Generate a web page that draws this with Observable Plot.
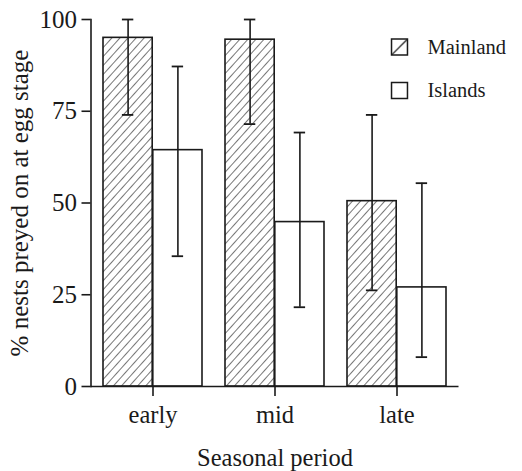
<!DOCTYPE html>
<html><head><meta charset="utf-8">
<script src="https://cdn.jsdelivr.net/npm/d3@7"></script>
<script src="https://cdn.jsdelivr.net/npm/@observablehq/plot@0.6"></script>
<style>body{margin:0;background:#fff}</style>
</head><body><div id="chart"></div>
<script>
const periods = ["early", "mid", "late"];
const series = ["Mainland", "Islands"];
const mainlandMean = [95, 94.5, 50.5];
const mainlandLow = [74, 71.5, 26.2];
const mainlandHigh = [100, 100, 74];
const islandsMean = [64.4, 44.8, 27];
const islandsLow = [35.5, 21.6, 8];
const islandsHigh = [87.2, 69.2, 55.4];
const yTicks = [0, 25, 50, 75, 100];

const mainland = periods.map((p, i) => ({period: p, series: series[0], mean: mainlandMean[i], low: mainlandLow[i], high: mainlandHigh[i]}));
const islands = periods.map((p, i) => ({period: p, series: series[1], mean: islandsMean[i], low: islandsLow[i], high: islandsHigh[i]}));

const W = 522, H = 471;
const mL = 90.5, mR = 63.5, mT = 19, mB = 85;
const pIn = 0.188, pOut = 0.094;
const step = (W - mL - mR) / (periods.length - pIn + 2 * pOut);
const bw = step * (1 - pIn);
const half = bw / 2;
const capW = 12;
const ink = "#1a1a1a";
const serif = "Liberation Serif";

const chart = Plot.plot({
  width: W, height: H,
  marginLeft: mL, marginRight: mR, marginTop: mT, marginBottom: mB,
  style: `font-family: '${serif}', serif; font-size: 24px; background: white; color: ${ink};`,
  x: {domain: periods, paddingInner: pIn, paddingOuter: pOut, axis: null},
  y: {domain: [0, 100], axis: null},
  marks: [
    Plot.barY(mainland, {x: "period", y: "mean", insetRight: half, fill: "url(#hatch)", stroke: ink, strokeWidth: 1.6}),
    Plot.barY(islands, {x: "period", y: "mean", insetLeft: half, fill: "white", stroke: ink, strokeWidth: 1.6}),
    Plot.ruleX(mainland, {x: "period", y1: "low", y2: "high", dx: -half / 2, stroke: ink, strokeWidth: 1.6}),
    Plot.ruleX(islands, {x: "period", y1: "low", y2: "high", dx: half / 2, stroke: ink, strokeWidth: 1.6}),
    Plot.tickY(mainland, {x: "period", y: "high", insetLeft: half / 2 - capW / 2, insetRight: bw - half / 2 - capW / 2, stroke: ink, strokeWidth: 1.8}),
    Plot.tickY(mainland, {x: "period", y: "low", insetLeft: half / 2 - capW / 2, insetRight: bw - half / 2 - capW / 2, stroke: ink, strokeWidth: 1.8}),
    Plot.tickY(islands, {x: "period", y: "high", insetLeft: half * 1.5 - capW / 2, insetRight: half / 2 - capW / 2, stroke: ink, strokeWidth: 1.8}),
    Plot.tickY(islands, {x: "period", y: "low", insetLeft: half * 1.5 - capW / 2, insetRight: half / 2 - capW / 2, stroke: ink, strokeWidth: 1.8}),
    Plot.ruleY([0], {stroke: ink, strokeWidth: 1.6}),
    Plot.frame({anchor: "left", stroke: ink, strokeWidth: 1.6}),
    Plot.axisY(yTicks, {tickSize: 9, tickPadding: 5, fontSize: 25, fontFamily: serif, tickFormat: d => d, label: "% nests preyed on at egg stage", labelAnchor: "center", labelArrow: "none", labelOffset: 81, stroke: ink, strokeWidth: 1.6}),
    Plot.axisX({tickSize: 10, tickPadding: 9, fontSize: 24.5, fontFamily: serif, label: "Seasonal period", labelAnchor: "center", labelArrow: "none", labelOffset: 79, stroke: ink, strokeWidth: 1.6}),
    Plot.dot([series[0]], {frameAnchor: "top-left", dx: 308.5, dy: 27.5, symbol: "square", r: 9, fill: "url(#hatchLegend)", stroke: ink, strokeWidth: 1.5}),
    Plot.dot([series[1]], {frameAnchor: "top-left", dx: 308.5, dy: 71, symbol: "square", r: 9, fill: "white", stroke: ink, strokeWidth: 1.5}),
    Plot.text([series[0]], {text: d => d, frameAnchor: "top-left", dx: 336.5, dy: 27.8, textAnchor: "start", lineAnchor: "middle", fontSize: 20.5, fontFamily: serif, fill: ink}),
    Plot.text([series[1]], {text: d => d, frameAnchor: "top-left", dx: 336.5, dy: 71, textAnchor: "start", lineAnchor: "middle", fontSize: 20.5, fontFamily: serif, fill: ink})
  ]
});

const defs = d3.select(chart).insert("defs", ":first-child");
const pat = defs.append("pattern").attr("id", "hatch").attr("patternUnits", "userSpaceOnUse")
  .attr("width", 6).attr("height", 6).attr("patternTransform", "rotate(42)");
pat.append("rect").attr("width", 6).attr("height", 6).attr("fill", "white");
pat.append("line").attr("x1", 0).attr("y1", 0).attr("x2", 0).attr("y2", 6).attr("stroke", ink).attr("stroke-width", 1.2);
const pat2 = defs.append("pattern").attr("id", "hatchLegend").attr("patternUnits", "objectBoundingBox")
  .attr("width", 1).attr("height", 1);
pat2.append("rect").attr("width", 16).attr("height", 16).attr("fill", "white");
pat2.append("line").attr("x1", 0).attr("y1", 16).attr("x2", 16).attr("y2", 0).attr("stroke", ink).attr("stroke-width", 1.2);

document.getElementById("chart").appendChild(chart);
</script>
</body></html>
